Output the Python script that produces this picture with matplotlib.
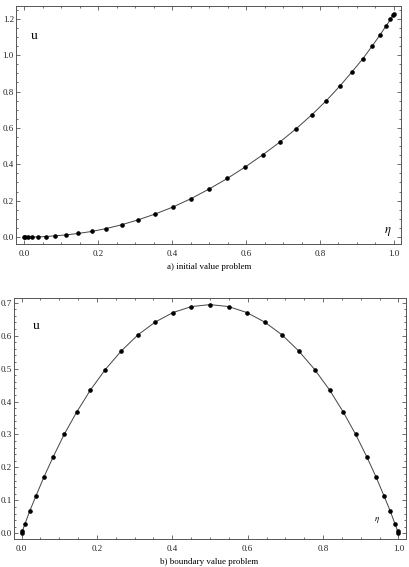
import matplotlib
matplotlib.use("Agg")
import matplotlib.pyplot as plt
from matplotlib.ticker import MultipleLocator, FormatStrFormatter

# ---- data ----
eta = [0.0, 0.0024, 0.0096, 0.0214, 0.0381, 0.0590, 0.0843, 0.1130, 0.1464,
       0.1828, 0.2222, 0.2643, 0.3087, 0.3546, 0.4020, 0.4509, 0.5, 0.5491,
       0.5975, 0.6451, 0.6913, 0.7357, 0.7778, 0.8172, 0.8536, 0.8865, 0.9157,
       0.9410, 0.9619, 0.9785, 0.9904, 0.9976, 1.0]

u_ivp = [0.0, 0.0, 0.0001, 0.0004, 0.0013, 0.003, 0.007, 0.012, 0.020, 0.031,
         0.047, 0.068, 0.095, 0.127, 0.165, 0.211, 0.264, 0.322, 0.385, 0.452,
         0.522, 0.596, 0.672, 0.750, 0.830, 0.908, 0.980, 1.050, 1.110, 1.160,
         1.196, 1.218, 1.225]

u_bvp = [0.0, 0.008, 0.030, 0.067, 0.113, 0.170, 0.233, 0.300, 0.368, 0.435,
         0.497, 0.553, 0.602, 0.641, 0.670, 0.688, 0.694, 0.688, 0.670, 0.641,
         0.602, 0.553, 0.497, 0.435, 0.368, 0.300, 0.233, 0.170, 0.113, 0.067,
         0.030, 0.008, 0.0]

captions = ["a) initial value problem", "b) boundary value problem"]

W, H = 409, 567
fig = plt.figure(figsize=(W / 100, H / 100), dpi=100)
plt.rcParams['font.family'] = ['Liberation Serif', 'DejaVu Serif']
plt.rcParams['mathtext.fontset'] = 'stix'

def px_axes(l, t, r, b):
    return fig.add_axes([l / W, 1 - b / H, (r - l) / W, (b - t) / H])

frame_col = '#555555'

def style(ax, ymaj, ymin):
    for s in ax.spines.values():
        s.set_color(frame_col)
        s.set_linewidth(0.7)
    ax.xaxis.set_major_locator(MultipleLocator(0.2))
    ax.xaxis.set_minor_locator(MultipleLocator(0.05))
    ax.yaxis.set_major_locator(MultipleLocator(ymaj))
    ax.yaxis.set_minor_locator(MultipleLocator(ymin))
    ax.xaxis.set_major_formatter(FormatStrFormatter('%.1f'))
    ax.yaxis.set_major_formatter(FormatStrFormatter('%.1f'))
    ax.tick_params(which='both', direction='in', top=True, right=True,
                   color=frame_col, width=0.6, labelsize=6.5, labelcolor='#222222')
    ax.tick_params(which='major', length=2.6)
    ax.tick_params(which='minor', length=1.5)
    ax.tick_params(axis='x', pad=4)
    ax.tick_params(axis='y', pad=1.5)

# top panel
ax1 = px_axes(16, 6, 401, 244)
ax1.plot(eta, u_ivp, color='#444444', lw=0.7, zorder=2)
ax1.plot(eta, u_ivp, 'o', color='black', ms=2.3, zorder=3)
ax1.set_xlim(-0.022, 1.019)
ax1.set_ylim(-0.038, 1.27)
style(ax1, 0.2, 0.05)
ax1.text(0.038, 0.86, 'u', transform=ax1.transAxes, fontsize=9.5)
ax1.text(0.955, 0.045, r'$\eta$', transform=ax1.transAxes, fontsize=9)
fig.text(209 / W, 1 - 267 / H, captions[0], ha='center', va='center', fontsize=6.5)

# bottom panel
ax2 = px_axes(14, 298, 406, 539)
ax2.plot(eta, u_bvp, color='#444444', lw=0.7, zorder=2)
ax2.plot(eta, u_bvp, 'o', color='black', ms=2.3, zorder=3)
ax2.set_xlim(-0.02, 1.02)
ax2.set_ylim(-0.017, 0.714)
style(ax2, 0.1, 0.02)
ax2.text(0.048, 0.87, 'u', transform=ax2.transAxes, fontsize=9.5)
ax2.text(0.918, 0.075, r'$\eta$', transform=ax2.transAxes, fontsize=6.5)
fig.text(209 / W, 1 - 562 / H, captions[1], ha='center', va='center', fontsize=6.5)

fig.savefig('out.png', dpi=100)
